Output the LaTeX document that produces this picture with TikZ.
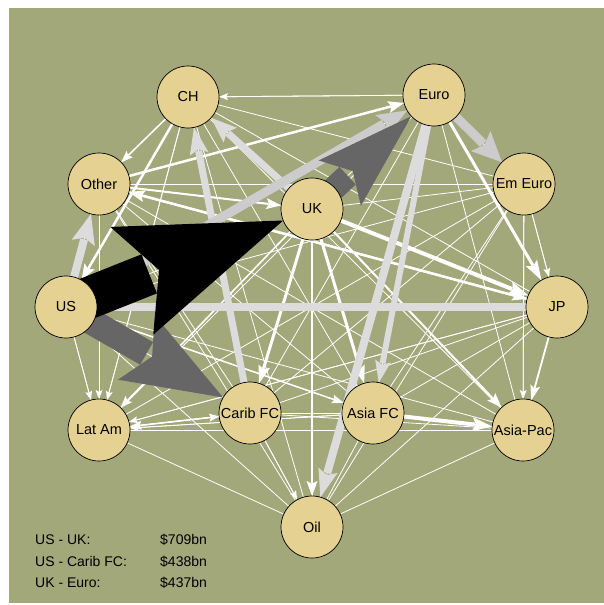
\documentclass[tikz,border=0pt]{standalone}
\usepackage{fontspec}
\setmainfont{Liberation Sans}
\usetikzlibrary{calc}
\definecolor{bgg}{HTML}{A3A87A}
\definecolor{nodefill}{HTML}{E5D192}
\definecolor{lgA}{HTML}{CCCCCC}
\definecolor{lgB}{HTML}{DCDCDC}
\definecolor{dg}{HTML}{666666}
\pgfdeclarelayer{bg}\pgfdeclarelayer{edges}\pgfsetlayers{bg,edges,main}
% #1 from, #2 to, #3 shaft width, #4 colour, #5 head length, #6 head half width
\newcommand\E[6]{%
 \pgfmathsetmacro\eN{0.82*#5}%
 \pgfmathsetmacro\eS{#5-0.18*#5*(1-#3/(2*#6))}%
 \coordinate (eT) at ($(#2.center)!31pt!(#1.center)$);
 \coordinate (eB) at ($(eT)!#5pt!(#1.center)$);
 \coordinate (eN) at ($(eT)!\eN pt!(#1.center)$);
 \coordinate (eM) at ($(eT)!\eS pt!(#1.center)$);
 \draw[line width=#3pt, draw=#4] (#1.center) -- (eM);
 \fill[#4] (eT) -- ($(eB)!#6pt!90:(eT)$) -- (eN) -- ($(eB)!#6pt!-90:(eT)$) -- cycle;
}
\tikzset{
 region/.style={circle, draw=black, line width=0.7pt, fill=nodefill, minimum size=62pt, inner sep=0pt, font=\fontsize{14.5}{16}\selectfont},
 thinedge/.style={draw=white, line width=0.8pt},
 legend/.style={inner sep=0pt, font=\fontsize{14}{16}\selectfont, anchor=base west}
}
\begin{document}
\begin{tikzpicture}[x=1pt,y=-1pt]
\useasboundingbox (0,0) rectangle (604,605);
\begin{pgfonlayer}{bg}
\fill[white] (0,0) rectangle (604,605);
\fill[bgg] (9,8) rectangle (604,603);
\end{pgfonlayer}

\node[region] (CH) at (188,97) {CH};
\node[region] (Euro) at (434,95) {Euro};
\node[region] (Other) at (99,184) {Other};
\node[region] (UK) at (312,209) {UK};
\node[region] (EmEuro) at (524,184) {Em Euro};
\node[region] (US) at (66,307) {US};
\node[region] (JP) at (557,307) {JP};
\node[region] (LatAm) at (99,430) {Lat Am};
\node[region] (Carib) at (250,413) {Carib FC};
\node[region] (AsiaFC) at (373,413) {Asia FC};
\node[region] (AsiaPac) at (523,430) {Asia-Pac};
\node[region] (Oil) at (312,527) {Oil};

\begin{pgfonlayer}{edges}
\foreach \a [count=\i] in {CH,Euro,Other,UK,EmEuro,US,JP,LatAm,Carib,AsiaFC,AsiaPac,Oil}{
 \foreach \b [count=\j] in {CH,Euro,Other,UK,EmEuro,US,JP,LatAm,Carib,AsiaFC,AsiaPac,Oil}{
  \ifnum\j>\i \draw[thinedge] (\a) -- (\b); \fi
 }}
% thin edges with heads
\E{Euro}{CH}{0.8}{white}{9}{3.5}
\E{US}{LatAm}{0.8}{white}{9}{3.5}
\E{Other}{LatAm}{0.8}{white}{9}{3.5}
\E{CH}{LatAm}{0.8}{white}{9}{3.5}
\E{UK}{LatAm}{1.5}{white}{12}{4.5}
\E{Carib}{LatAm}{1.5}{white}{12}{4.5}
\E{LatAm}{Carib}{1}{white}{10}{4}
\E{AsiaFC}{LatAm}{0.8}{white}{9}{3.5}
\E{JP}{LatAm}{0.8}{white}{9}{3.5}
\E{CH}{Other}{1.5}{white}{12}{4.5}
\E{EmEuro}{JP}{0.8}{white}{9}{3.5}
\E{EmEuro}{AsiaPac}{0.8}{white}{9}{3.5}
\E{US}{AsiaFC}{1.5}{white}{12}{4.5}
\E{Carib}{Oil}{0.8}{white}{9}{3.5}
% medium white
\E{UK}{JP}{4}{white}{20}{7}
\E{Euro}{JP}{3}{white}{20}{6.5}
\E{AsiaFC}{AsiaPac}{4}{white}{20}{7}
\E{UK}{AsiaFC}{3}{white}{18}{6}
\E{UK}{Carib}{3}{white}{18}{6}
\E{UK}{Oil}{2}{white}{15}{5.5}
\E{UK}{AsiaPac}{2}{white}{15}{5.5}
\E{JP}{AsiaPac}{1.8}{white}{15}{5}
\E{Other}{Euro}{2.5}{white}{16}{6}
\E{Other}{UK}{2}{white}{15}{5.5}
\E{Other}{JP}{2}{white}{15}{5.5}
\E{JP}{Other}{2.5}{white}{16}{6}
\E{CH}{US}{2.5}{white}{16}{6}
% light grey
\draw[lgB, line width=8pt] (US) -- (JP);
\E{US}{Other}{8}{lgB}{30}{12}
\E{Carib}{CH}{7}{lgB}{27}{9.5}
\E{UK}{CH}{7}{lgB}{26}{10}
\E{Euro}{EmEuro}{9}{lgA}{30}{14}
\E{Euro}{Oil}{8}{lgB}{28}{10}
\E{Euro}{AsiaFC}{6}{lgB}{22}{8}
\E{US}{Euro}{9}{lgA}{30}{12}
% dark grey and black
\E{US}{Carib}{26}{dg}{100}{37}
\E{UK}{Euro}{24}{dg}{98}{31}
\E{US}{UK}{42}{black}{163}{58}
\end{pgfonlayer}

\node[legend] (l1a) at (35,544) {US - UK:};
\node[legend] (l1b) at (160,544) {\$709bn};
\node[legend] (l2a) at (35,566) {US - Carib FC:};
\node[legend] (l2b) at (160,566) {\$438bn};
\node[legend] (l3a) at (35,587) {UK - Euro:};
\node[legend] (l3b) at (160,587) {\$437bn};
\end{tikzpicture}
\end{document}
